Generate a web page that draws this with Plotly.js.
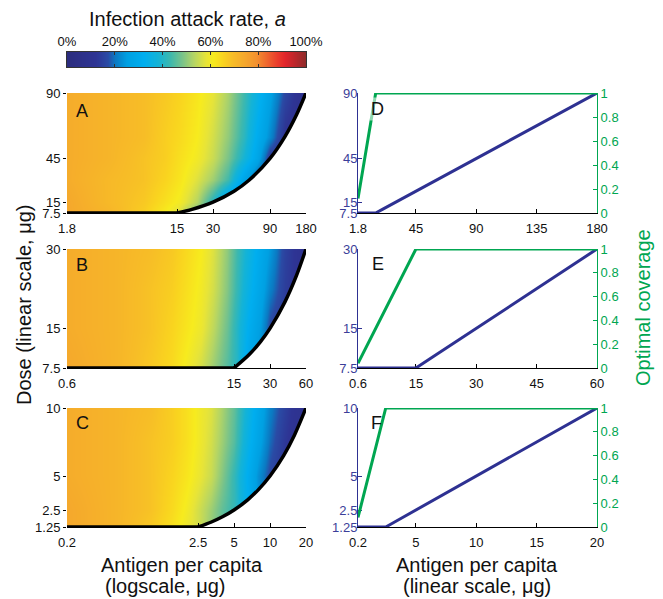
<!DOCTYPE html>
<html><head><meta charset="utf-8">
<script src="https://cdn.plot.ly/plotly-3.0.1.min.js"></script>
<style>html,body{margin:0;padding:0;background:#fff}#chart{width:663px;height:599px}</style>
</head><body><div id="chart"></div>
<script>
// ---------------- data ----------------
// Panel A (dose 7.5-90, antigen 1.8-180)
const antigenA = [1.8, 4, 8, 12, 16, 22, 30, 40, 55, 70, 90, 120, 150, 180];
const doseA = [7.5, 15, 30, 45, 60, 90];
const attackA = [
  [74, 71, 66, 61, 56, 46, 40, 26, 15, 13, 11, 9, 8, 8],
  [74, 70, 67, 63, 60, 53, 40, 26, 15, 13, 11, 9, 8, 8],
  [73, 70, 68, 65, 62, 57, 51, 43, 27, 16, 13, 11, 9, 8],
  [73, 71, 68, 66, 63, 60, 55, 48, 38, 28, 13, 11, 9, 8],
  [73, 71, 69, 66, 64, 61, 56, 50, 41, 31, 22, 11, 9, 8],
  [73, 71, 69, 67, 65, 62, 58, 52, 43, 35, 26, 16, 11, 8]
];
const optAntigenA = [1.8, 15, 20, 30, 45, 60, 90, 120, 150, 180];
const optDoseA = [7.5, 7.5, 10, 15, 22.5, 30, 45, 60, 75, 90];
const covAntigenA = [1.8, 15, 180];
const coverageA = [0.12, 1, 1];

// Panel B (dose 7.5-30, antigen 0.6-60)
const antigenB = [0.6, 1.5, 3, 4.5, 6, 8, 10, 13, 16, 20, 25, 30, 40, 50, 60];
const doseB = [7.5, 15, 22.5, 30];
const attackB = [
  [74, 71, 67, 64, 60, 56, 51, 45, 40, 28, 21, 16, 12, 10, 9],
  [73, 71, 68, 65, 62, 59, 54, 47, 40, 31, 24, 16, 12, 10, 9],
  [73, 71, 68, 66, 63, 60, 56, 49, 42, 34, 27, 21, 14, 11, 9],
  [73, 71, 69, 67, 64, 61, 57, 50, 43, 36, 29, 24, 15, 11, 9]
];
const optAntigenB = [0.6, 15, 20, 25, 30, 40, 50, 60];
const optDoseB = [7.5, 7.5, 10, 12.5, 15, 20, 25, 30];
const covAntigenB = [0.6, 15, 60];
const coverageB = [0.04, 1, 1];

// Panel C (dose 1.25-10, antigen 0.2-20)
const antigenC = [0.2, 0.5, 1, 1.5, 2, 2.5, 3.2, 4, 5, 6.5, 8, 10, 13, 16, 20];
const doseC = [1.25, 2.5, 5, 7.5, 10];
const attackC = [
  [74, 71, 67, 63, 59, 56, 50, 46, 42, 32, 24, 16, 12, 10, 8],
  [74, 71, 68, 64, 60, 56, 51, 46, 42, 32, 24, 16, 12, 10, 8],
  [73, 71, 68, 65, 62, 59, 55, 49, 42, 31, 23, 16, 12, 10, 8],
  [73, 71, 68, 66, 63, 60, 56, 51, 45, 34, 27, 19, 13, 10, 8],
  [73, 71, 69, 66, 63, 60, 57, 52, 46, 36, 29, 21, 15, 11, 8]
];
const optAntigenC = [0.2, 2.5, 3.2, 4, 5, 6.5, 8, 10, 13, 16, 20];
const optDoseC = [1.25, 1.25, 1.6, 2, 2.5, 3.25, 4, 5, 6.5, 8, 10];
const covAntigenC = [0.2, 2.5, 20];
const coverageC = [0.08, 1, 1];

// tick labels
const logTicksA = ['1.8', '15', '30', '90', '180'];
const logTicksB = ['0.6', '15', '30', '60'];
const logTicksC = ['0.2', '2.5', '5', '10', '20'];
const linTicksA = ['1.8', '45', '90', '135', '180'];
const linTicksB = ['0.6', '15', '30', '45', '60'];
const linTicksC = ['0.2', '5', '10', '15', '20'];
const doseTicksA = ['7.5', '15', '45', '90'];
const doseTicksB = ['7.5', '15', '30'];
const doseTicksC = ['1.25', '2.5', '5', '10'];
const coverageTicks = ['0', '0.2', '0.4', '0.6', '0.8', '1'];
const colorbarLevels = [0, 100];
const colorbarTicks = ['0%', '20%', '40%', '60%', '80%', '100%'];

// ---------------- styling ----------------
const W = 663, H = 599;
const BLUE = '#2E3192', GREEN = '#00A651';
const FONT = 'Liberation Sans, Arial, Helvetica, sans-serif';
const cs = [
  [0.00, '#2C2D7E'], [0.12, '#2E3494'], [0.17, '#2A4BA5'], [0.20, '#0B79C2'],
  [0.25, '#00A0E2'], [0.32, '#00AEEF'], [0.38, '#14B3D6'], [0.43, '#3DB8AE'],
  [0.48, '#79C38A'], [0.53, '#B5D564'], [0.58, '#E7E438'], [0.61, '#F7EB1E'],
  [0.65, '#F9D41F'], [0.69, '#F7BD27'], [0.74, '#F5A82C'], [0.79, '#F3922F'],
  [0.83, '#EF6A2E'], [0.88, '#EA3B2B'], [0.91, '#E2252B'], [0.95, '#BE262B'],
  [1.00, '#8B2B2A']
];
const dx = (a, b) => [a / W, b / W];
const dy = (t, b) => [1 - b / H, 1 - t / H];
const rows = [[93, 213], [249, 368], [408, 527]];
const LEFT = [67, 306], RIGHT = [358, 597];
const num = s => s.map(Number);

const panels = [
  {ant: antigenA, dose: doseA, z: attackA, oa: optAntigenA, od: optDoseA, ca: covAntigenA, cv: coverageA,
   logT: logTicksA, linT: linTicksA, doseT: doseTicksA},
  {ant: antigenB, dose: doseB, z: attackB, oa: optAntigenB, od: optDoseB, ca: covAntigenB, cv: coverageB,
   logT: logTicksB, linT: linTicksB, doseT: doseTicksB},
  {ant: antigenC, dose: doseC, z: attackC, oa: optAntigenC, od: optDoseC, ca: covAntigenC, cv: coverageC,
   logT: logTicksC, linT: linTicksC, doseT: doseTicksC}
];

const data = [];
const layout = {
  width: W, height: H, margin: {l: 0, r: 0, t: 0, b: 0},
  paper_bgcolor: '#fff', plot_bgcolor: 'rgba(0,0,0,0)', showlegend: false,
  font: {family: FONT, size: 13, color: '#111'},
  annotations: []
};
const tf = (c) => ({family: FONT, size: 13, color: c});

panels.forEach((p, i) => {
  const r = rows[i];
  const xmin = p.ant[0], xmax = p.ant[p.ant.length - 1];
  const ymin = p.dose[0], ymax = p.dose[p.dose.length - 1];
  const xL = 'x' + (i === 0 ? '' : i + 1), yL = 'y' + (i === 0 ? '' : i + 1);
  const xLk = 'xaxis' + (i === 0 ? '' : i + 1), yLk = 'yaxis' + (i === 0 ? '' : i + 1);
  const yB = 'y' + (10 + i), yBk = 'yaxis' + (10 + i);
  data.push({type: 'heatmap', x: p.ant, y: p.dose, z: p.z, xaxis: xL, yaxis: yL,
    colorscale: cs, zmin: 0, zmax: 100, zsmooth: 'best', showscale: false, hoverinfo: 'skip'});
  // flat part of the optimal-dose boundary (minimum dose)
  data.push({type: 'scatter', mode: 'lines', x: p.oa.slice(0, 2), y: p.od.slice(0, 2), xaxis: xL, yaxis: yL,
    line: {color: '#000', width: 3.5}, hoverinfo: 'skip'});
  // rising part, with the infeasible region below it blanked
  data.push({type: 'scatter', mode: 'lines', x: p.oa.slice(1), y: p.od.slice(1), xaxis: xL, yaxis: yL,
    fill: 'tozeroy', fillcolor: '#ffffff',
    line: {color: '#000', width: 3.5, shape: 'spline', smoothing: 0.8}, hoverinfo: 'skip'});
  layout[xLk] = {domain: dx(...LEFT), anchor: yL, type: 'log',
    range: [Math.log10(xmin), Math.log10(xmax)],
    tickmode: 'array', tickvals: num(p.logT), ticktext: p.logT,
    ticks: 'inside', ticklen: 4, tickcolor: '#000', showline: true, linecolor: '#000', linewidth: 1,
    showgrid: false, zeroline: false, tickfont: tf('#111'), ticklabelstandoff: 3};
  layout[yLk] = {domain: dy(...r), anchor: xL, range: [ymin, ymax],
    tickmode: 'array', tickvals: num(p.doseT), ticktext: p.doseT,
    ticks: 'outside', ticklen: 3, tickcolor: '#000', showline: false,
    showgrid: false, zeroline: false, tickfont: tf('#111')};
  layout[yBk] = {overlaying: yL, side: 'right', anchor: xL, range: [ymin, ymax],
    tickmode: 'array', tickvals: num(p.doseT), showticklabels: false,
    ticks: 'inside', ticklen: 4, tickcolor: '#000', showline: true, linecolor: '#000',
    showgrid: false, zeroline: false};

  const xR = 'x' + (4 + i), xRk = 'xaxis' + (4 + i);
  const yD = 'y' + (4 + 2 * i), yDk = 'yaxis' + (4 + 2 * i);
  const yC = 'y' + (5 + 2 * i), yCk = 'yaxis' + (5 + 2 * i);
  data.push({type: 'scatter', mode: 'lines', x: p.oa, y: p.od, xaxis: xR, yaxis: yD,
    line: {color: BLUE, width: 3}, hoverinfo: 'skip'});
  data.push({type: 'scatter', mode: 'lines', x: p.ca, y: p.cv, xaxis: xR, yaxis: yC,
    line: {color: GREEN, width: 3}, hoverinfo: 'skip'});
  layout[xRk] = {domain: dx(...RIGHT), anchor: yD, range: [xmin, xmax],
    tickmode: 'array', tickvals: num(p.linT), ticktext: p.linT,
    ticks: 'inside', ticklen: 4, tickcolor: '#000', showline: true, linecolor: '#000',
    showgrid: false, zeroline: false, tickfont: tf('#111'), layer: 'below traces', ticklabelstandoff: 3};
  layout[yDk] = {domain: dy(...r), anchor: xR, range: [ymin, ymax],
    tickmode: 'array', tickvals: num(p.doseT), ticktext: p.doseT,
    ticks: 'inside', ticklen: 4, tickcolor: BLUE, showline: true, linecolor: BLUE,
    showgrid: false, zeroline: false, tickfont: tf('#3B3E99'), layer: 'below traces', ticklabelstandoff: -3};
  layout[yCk] = {overlaying: yD, side: 'right', anchor: xR, range: [0, 1],
    tickmode: 'array', tickvals: num(coverageTicks), ticktext: coverageTicks,
    ticks: 'inside', ticklen: 4, tickcolor: GREEN, showline: true, linecolor: GREEN,
    showgrid: false, zeroline: false, tickfont: tf(GREEN), layer: 'below traces'};
});

// colour bar drawn as its own heatmap
data.push({type: 'heatmap', x: colorbarLevels, y: [0, 1], z: [colorbarLevels, colorbarLevels],
  xaxis: 'x7', yaxis: 'y13', colorscale: cs, zmin: 0, zmax: 100, zsmooth: 'best',
  showscale: false, hoverinfo: 'skip'});
layout.xaxis7 = {domain: dx(...LEFT), anchor: 'y13', side: 'top', range: [0, 100],
  tickmode: 'array', tickvals: colorbarTicks.map(s => parseFloat(s)), ticktext: colorbarTicks,
  ticks: 'inside', ticklen: 3, tickcolor: '#333', showline: true, linecolor: '#333', mirror: 'ticks',
  showgrid: false, zeroline: false, tickfont: tf('#111')};
layout.yaxis13 = {domain: dy(52, 67), anchor: 'x7', range: [0, 1],
  showticklabels: false, ticks: '', showline: true, linecolor: '#333', mirror: true,
  showgrid: false, zeroline: false};

// ---------------- annotations ----------------
const ann = (text, xpx, ypx, opts) => Object.assign({
  text, xref: 'paper', yref: 'paper', x: xpx / W, y: 1 - ypx / H,
  showarrow: false, xanchor: 'center', yanchor: 'middle',
  font: {family: FONT, size: 20, color: '#111'}
}, opts || {});
const letters = [['A', 74, 110.5], ['B', 74, 264.5], ['C', 74, 423],
                 ['D', 369, 109.5], ['E', 370, 264], ['F', 369, 423.5]];
letters.forEach(l => layout.annotations.push(ann(l[0], l[1], l[2],
  {xanchor: 'left', font: {family: FONT, size: 18, color: '#111'},
   bgcolor: l[0] === 'D' ? 'rgba(255,255,255,0.55)' : 'rgba(0,0,0,0)'})));
layout.annotations.push(ann('Infection attack rate, <i>a</i>', 187, 19.5));
layout.annotations.push(ann('Dose (linear scale, μg)', 24, 305, {textangle: -90}));
layout.annotations.push(ann('Optimal coverage', 643, 308,
  {textangle: -90, font: {family: FONT, size: 20, color: GREEN}}));
layout.annotations.push(ann('Antigen per capita', 182, 564.5));
layout.annotations.push(ann('(logscale, μg)', 103, 586, {xanchor: 'left'}));
layout.annotations.push(ann('Antigen per capita', 477, 564.5));
layout.annotations.push(ann('(linear scale, μg)', 477, 586));

Plotly.newPlot('chart', data, layout, {staticPlot: true, displayModeBar: false});
</script>
</body></html>
